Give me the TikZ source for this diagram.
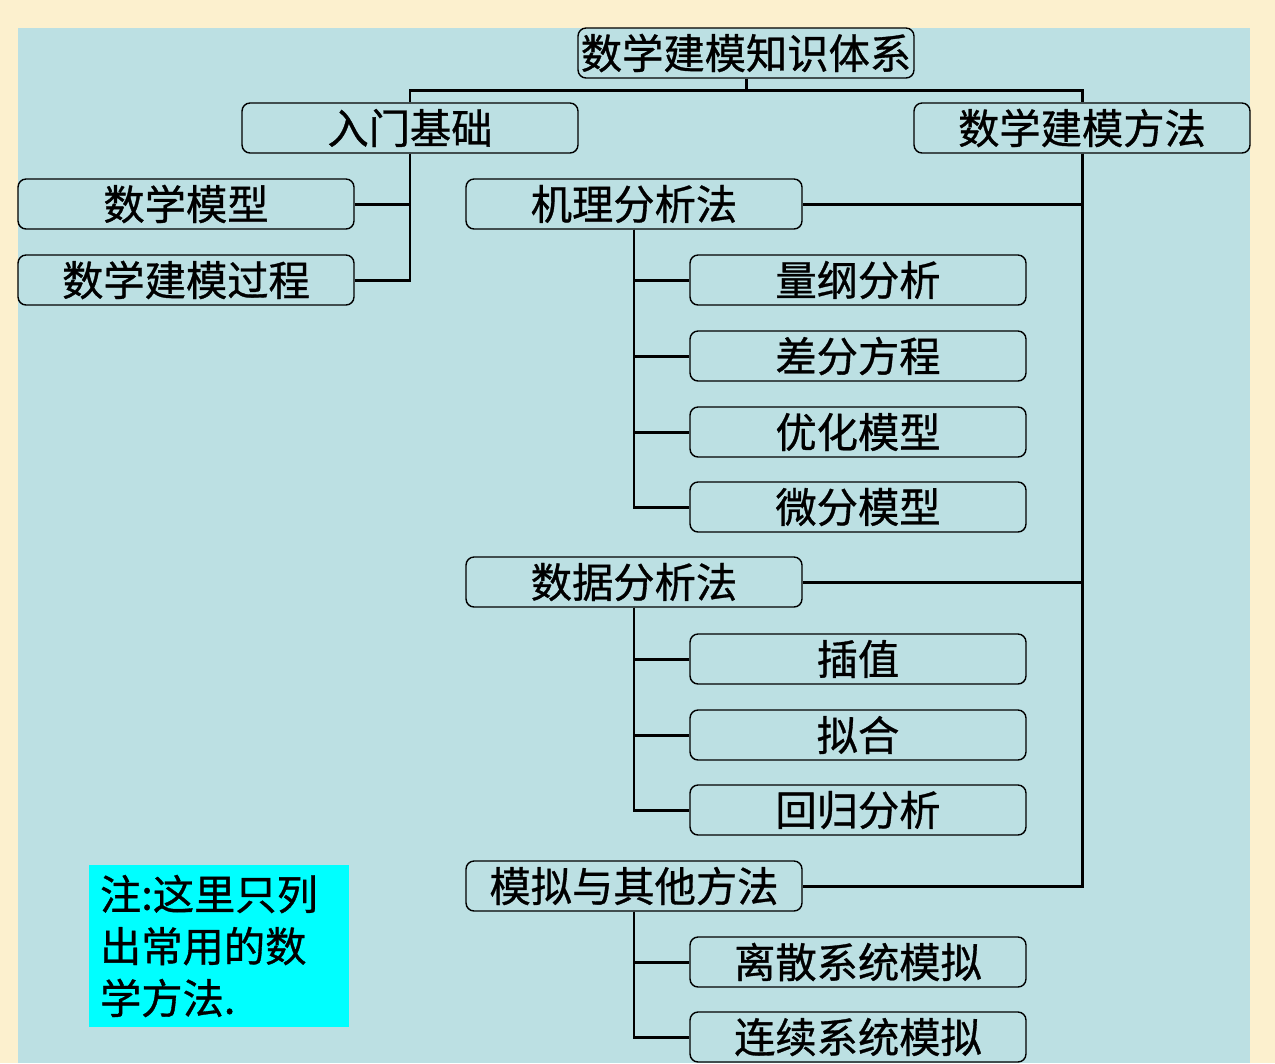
\documentclass[tikz,border=0pt]{standalone}
\usepackage{fontspec}
\usepackage{tikz}
\usepackage{xcolor}
\newfontfamily\cjk[FakeBold=0.8]{Noto Sans CJK SC}
\definecolor{paper}{RGB}{252,240,206}
\definecolor{panel}{RGB}{188,224,227}
\definecolor{notecyan}{RGB}{0,255,255}
\tikzset{box/.style={draw=black,fill=panel,rounded corners=0.16cm,line width=0.8pt,
   minimum width=6.72cm,minimum height=1cm,inner sep=0pt,
   font=\cjk\fontsize{23.5}{28}\selectfont},
 note/.style={fill=notecyan,minimum width=5.2cm,minimum height=3.24cm,inner xsep=0.22cm,
   text width=4.76cm,align=left,font=\cjk\fontsize{23.5}{29.6}\selectfont},
 link/.style={draw=black,line width=1.7pt},
 }

\begin{document}
\begin{tikzpicture}[x=0.02cm,y=-0.02cm]
    % background
    \fill[paper] (0,0) rectangle (1275,1063);
    \fill[panel] (18,28) rectangle (1250,1063);
    \useasboundingbox (0,0) rectangle (1275,1063);

    \node[box] (root) at (746,53) {数学建模知识体系};
    \node[box] (basic) at (410,128) {入门基础};
    \node[box] (method) at (1082,128) {数学建模方法};
    \coordinate (bus) at (746,90);

    \node[box] (model) at (186,204) {数学模型};
    \node[box] (process) at (186,280) {数学建模过程};

    \node[box] (mech) at (634,204) {机理分析法};
    \node[box] (dim) at (858,280) {量纲分析};
    \node[box] (diff) at (858,356) {差分方程};
    \node[box] (opt) at (858,432) {优化模型};
    \node[box] (ode) at (858,507) {微分模型};

    \node[box] (data) at (634,582) {数据分析法};
    \node[box] (interp) at (858,659) {插值};
    \node[box] (fit) at (858,735) {拟合};
    \node[box] (regr) at (858,810) {回归分析};

    \node[box] (sim) at (634,886) {模拟与其他方法};
    \node[box] (disc) at (858,962) {离散系统模拟};
    \node[box] (cont) at (858,1037) {连续系统模拟};

    \node[note] (remark) at (219,946) {注:这里只列\\出常用的数\\学方法.};

    % connectors
    \draw[link] (root.south) -- (bus) -| (basic.north);
    \draw[link] (bus) -| (method.north);
    \draw[link] (basic.south) |- (model.east);
    \draw[link] (basic.south) |- (process.east);
    \draw[link] (method.south) |- (mech.east);
    \draw[link] (method.south) |- (data.east);
    \draw[link] (method.south) |- (sim.east);
    \draw[link] (mech.south) |- (dim.west);
    \draw[link] (mech.south) |- (diff.west);
    \draw[link] (mech.south) |- (opt.west);
    \draw[link] (mech.south) |- (ode.west);
    \draw[link] (data.south) |- (interp.west);
    \draw[link] (data.south) |- (fit.west);
    \draw[link] (data.south) |- (regr.west);
    \draw[link] (sim.south) |- (disc.west);
    \draw[link] (sim.south) |- (cont.west);
\end{tikzpicture}
\end{document}
